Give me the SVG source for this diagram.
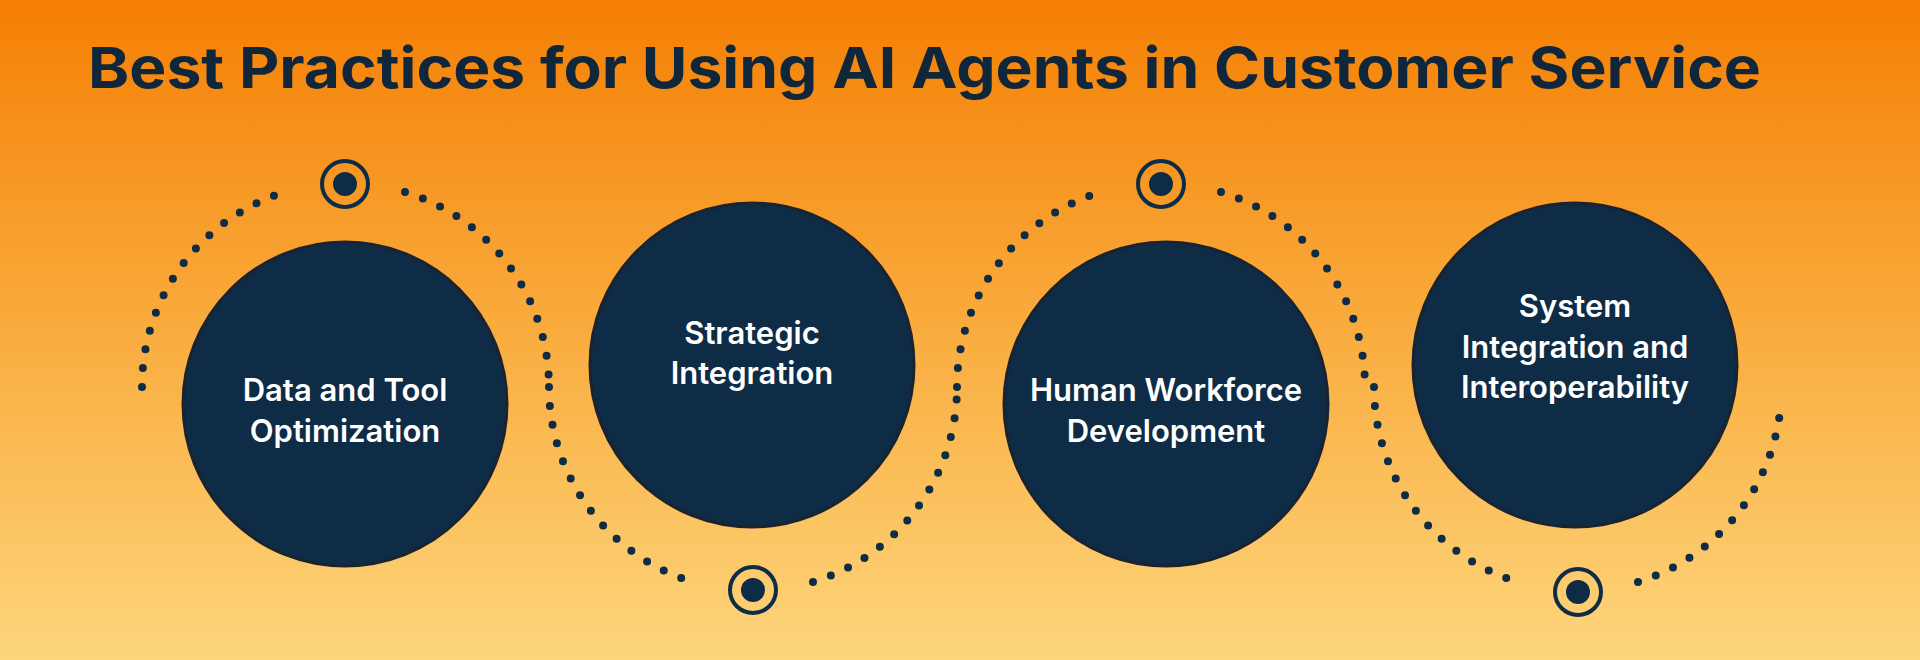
<svg xmlns="http://www.w3.org/2000/svg" width="1920" height="660" viewBox="0 0 1920 660">
<defs>
<linearGradient id="bg" x1="0" y1="0" x2="0" y2="1">
<stop offset="0" stop-color="#f57f04"/>
<stop offset="0.5" stop-color="#f9ac3e"/>
<stop offset="1" stop-color="#fdd57c"/>
</linearGradient>
</defs>
<style>
.node{fill:#0e2c46;stroke:#1a2330;stroke-width:3}
.lbl{font-family:Inter,"Noto Sans",sans-serif;font-weight:600;font-size:31px;fill:#fff;text-anchor:middle}
.dots{fill:none;stroke:#0e2c46;stroke-width:8;stroke-linecap:round;stroke-dasharray:0 19}
.ring{fill:none;stroke:#0e2c46;stroke-width:4}
.core{fill:#0e2c46}
</style>
<rect width="1920" height="660" fill="url(#bg)"/>
<text x="88" y="88" font-family="Inter,'Noto Sans',sans-serif" font-weight="700" font-size="57" fill="#10263a" textLength="1673" lengthAdjust="spacingAndGlyphs">Best Practices for Using AI Agents in Customer Service</text>
<g id="connectors">
<path class="dots" d="M142,387 A204,204 0 0 1 285,192"/>
<path class="dots" d="M405,192 A204,204 0 0 1 549,387"/>
<path class="dots" d="M549,387 A204,204 0 0 0 693,582"/>
<path class="dots" d="M813,582 A204,204 0 0 0 957,387"/>
<path class="dots" d="M957,387 A204,204 0 0 1 1101,192"/>
<path class="dots" d="M1221,192 A204,204 0 0 1 1365,387"/>
<path class="dots" d="M1374,387 A204,204 0 0 0 1518,582"/>
<path class="dots" d="M1638,582 A204,204 0 0 0 1780,412"/>
</g>
<g id="t1"><circle class="ring" cx="345" cy="184" r="23"/><circle class="core" cx="345" cy="184" r="12"/></g>
<g id="t2"><circle class="ring" cx="753" cy="590" r="23"/><circle class="core" cx="753" cy="590" r="12"/></g>
<g id="t3"><circle class="ring" cx="1161" cy="184" r="23"/><circle class="core" cx="1161" cy="184" r="12"/></g>
<g id="t4"><circle class="ring" cx="1578" cy="592" r="23"/><circle class="core" cx="1578" cy="592" r="12"/></g>
<g id="n1"><circle class="node" cx="345" cy="404" r="162"/><text class="lbl" x="345" y="401">Data and Tool</text><text class="lbl" x="345" y="442">Optimization</text></g>
<g id="n2"><circle class="node" cx="752" cy="365" r="162"/><text class="lbl" x="752" y="344">Strategic</text><text class="lbl" x="752" y="384">Integration</text></g>
<g id="n3"><circle class="node" cx="1166" cy="404" r="162"/><text class="lbl" x="1166" y="401">Human Workforce</text><text class="lbl" x="1166" y="442">Development</text></g>
<g id="n4"><circle class="node" cx="1575" cy="365" r="162"/><text class="lbl" x="1575" y="317">System</text><text class="lbl" x="1575" y="358">Integration and</text><text class="lbl" x="1575" y="398">Interoperability</text></g>
</svg>
